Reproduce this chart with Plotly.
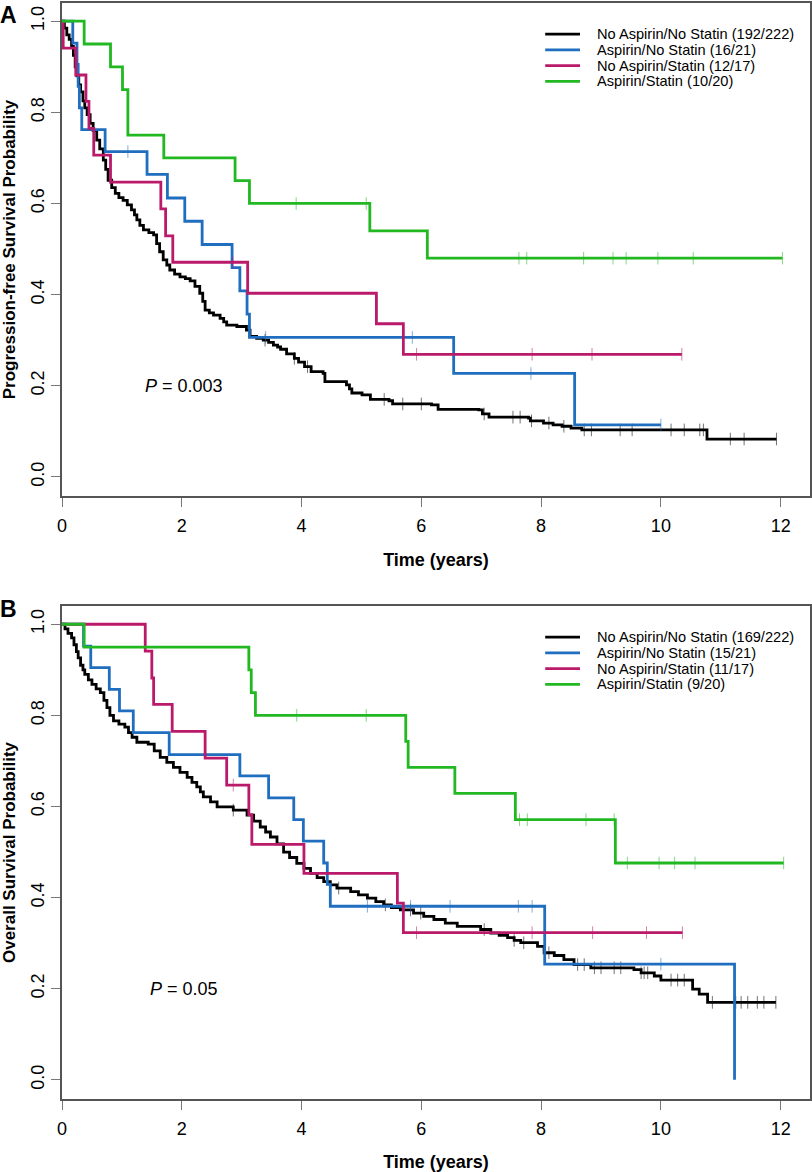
import numpy as np
import plotly.graph_objects as go
from plotly.subplots import make_subplots

font_family = 'Liberation Sans'
line_width = 2.8
box_color = '#555555'

col_none = '#000000'
col_asp = '#1F6EBF'
col_stat = '#BB1A6B'
col_both = '#22B822'

# ---------- Panel A: progression-free survival ----------
pfs_none_t = [0, 0.04, 0.08, 0.12, 0.16, 0.19, 0.22, 0.25, 0.28, 0.31, 0.35, 0.38, 0.42, 0.47, 0.52,
              0.58, 0.63, 0.69, 0.73, 0.77, 0.83, 0.89, 0.95, 1.02, 1.09, 1.16, 1.21, 1.25, 1.30, 1.36,
              1.45, 1.53, 1.58, 1.63, 1.69, 1.75, 1.80, 1.88, 1.97, 2.06, 2.14, 2.22, 2.30, 2.35, 2.39,
              2.46, 2.53, 2.64, 2.70, 2.75, 2.92, 3.08, 3.14, 3.25, 3.36, 3.45, 3.53, 3.60, 3.65, 3.75,
              3.88, 3.95, 4.05, 4.16, 4.36, 4.39, 4.75, 4.80, 4.84, 5.01, 5.15, 5.46, 5.52, 6.17, 6.28,
              6.96, 7.02, 7.13, 7.79, 7.82, 8.04, 8.20, 8.35, 8.50, 8.68, 10.77]
pfs_none_s = [1.0, 0.985, 0.97, 0.96, 0.945, 0.925, 0.90, 0.88, 0.86, 0.845, 0.825, 0.81, 0.795, 0.776, 0.76,
              0.739, 0.72, 0.695, 0.675, 0.651, 0.635, 0.622, 0.613, 0.607, 0.597, 0.586, 0.575, 0.564, 0.552, 0.542,
              0.536, 0.531, 0.512, 0.494, 0.476, 0.465, 0.454, 0.445, 0.439, 0.435, 0.430, 0.418, 0.403, 0.385, 0.366,
              0.360, 0.355, 0.348, 0.340, 0.333, 0.330, 0.322, 0.308, 0.304, 0.300, 0.295, 0.289, 0.285, 0.280, 0.270,
              0.260, 0.252, 0.242, 0.231, 0.227, 0.209, 0.202, 0.193, 0.184, 0.180, 0.170, 0.167, 0.160, 0.158, 0.148,
              0.147, 0.138, 0.131, 0.129, 0.123, 0.118, 0.114, 0.111, 0.107, 0.103, 0.083]
pfs_none_end = 11.93
pfs_none_cens = [3.39, 3.88, 4.10, 5.38, 5.69, 6.00, 7.05, 7.53, 7.65, 7.84, 8.13, 8.38, 8.72, 8.84,
                 9.32, 9.52, 10.17, 10.39, 10.65, 10.71, 11.16, 11.39, 11.93]

pfs_asp_t = [0, 0.18, 0.25, 0.27, 0.29, 0.33, 0.72, 1.42, 1.76, 2.05, 2.34, 2.84, 2.97, 3.09, 3.13, 6.54, 8.56]
pfs_asp_s = [1.0, 0.952, 0.905, 0.857, 0.810, 0.762, 0.714, 0.664, 0.612, 0.561, 0.510, 0.459, 0.408, 0.357,
             0.306, 0.227, 0.114]
pfs_asp_end = 10.0
pfs_asp_cens = [1.10, 3.40, 5.85, 7.83, 10.0]

pfs_stat_t = [0, 0.02, 0.23, 0.40, 0.45, 0.53, 0.81, 1.65, 1.73, 1.85, 3.10, 5.25, 5.70]
pfs_stat_s = [1.0, 0.941, 0.882, 0.824, 0.765, 0.706, 0.647, 0.588, 0.529, 0.471, 0.403, 0.336, 0.269]
pfs_stat_end = 10.35
pfs_stat_cens = [2.85, 5.92, 7.85, 8.85, 10.35]

pfs_both_t = [0, 0.37, 0.81, 1.01, 1.10, 1.70, 2.89, 3.13, 5.14, 6.10]
pfs_both_s = [1.0, 0.95, 0.90, 0.85, 0.75, 0.70, 0.65, 0.60, 0.54, 0.48]
pfs_both_end = 12.03
pfs_both_cens = [3.91, 5.08, 7.63, 7.76, 8.71, 9.20, 9.42, 9.95, 10.54, 12.03]

pfs_labels = ['No Aspirin/No Statin (192/222)', 'Aspirin/No Statin (16/21)',
              'No Aspirin/Statin (12/17)', 'Aspirin/Statin (10/20)']
pfs_pvalue = '0.003'

# ---------- Panel B: overall survival ----------
os_none_t = [0, 0.05, 0.10, 0.16, 0.20, 0.24, 0.27, 0.31, 0.35, 0.38, 0.44, 0.50, 0.57, 0.64, 0.70,
             0.75, 0.80, 0.86, 0.95, 1.05, 1.11, 1.17, 1.25, 1.44, 1.54, 1.64, 1.75, 1.86, 1.97, 2.09,
             2.17, 2.25, 2.31, 2.36, 2.48, 2.59, 2.86, 3.09, 3.20, 3.31, 3.40, 3.48, 3.59, 3.70, 3.80,
             3.92, 4.04, 4.15, 4.26, 4.37, 4.48, 4.59, 4.82, 4.95, 5.10, 5.24, 5.37, 5.50, 5.65, 5.87,
             6.04, 6.21, 6.40, 6.60, 6.99, 7.16, 7.30, 7.44, 7.55, 7.66, 7.94, 8.05, 8.22, 8.38, 8.55,
             8.83, 9.55, 9.67, 9.89, 10.0, 10.53, 10.64, 10.78]
os_none_s = [1.0, 0.99, 0.98, 0.97, 0.955, 0.94, 0.926, 0.91, 0.90, 0.89, 0.878, 0.868, 0.858, 0.85, 0.833,
             0.817, 0.80, 0.788, 0.781, 0.774, 0.762, 0.752, 0.741, 0.737, 0.722, 0.708, 0.697, 0.686, 0.675, 0.664,
             0.653, 0.643, 0.632, 0.621, 0.610, 0.599, 0.592, 0.581, 0.568, 0.555, 0.544, 0.533, 0.518, 0.500, 0.488,
             0.475, 0.464, 0.453, 0.444, 0.435, 0.428, 0.421, 0.413, 0.406, 0.399, 0.391, 0.384, 0.378, 0.373, 0.366,
             0.359, 0.352, 0.344, 0.337, 0.330, 0.322, 0.317, 0.312, 0.306, 0.301, 0.293, 0.279, 0.273, 0.264, 0.253,
             0.246, 0.242, 0.235, 0.228, 0.219, 0.199, 0.188, 0.170]
os_none_end = 11.92
os_none_cens = [2.86, 4.62, 5.40, 5.82, 5.99, 7.05, 7.55, 7.71, 8.13, 8.61, 8.72, 8.89, 9.00, 9.22, 9.33,
                9.67, 9.72, 9.78, 10.17, 10.28, 10.39, 10.86, 11.25, 11.34, 11.45, 11.61, 11.72, 11.92]

os_asp_t = [0, 0.36, 0.48, 0.79, 0.96, 1.19, 1.79, 2.97, 3.45, 3.87, 4.03, 4.37, 4.43, 4.48, 8.06, 11.23]
os_asp_s = [1.0, 0.952, 0.905, 0.857, 0.810, 0.762, 0.714, 0.667, 0.619, 0.571, 0.524, 0.476, 0.429, 0.381,
            0.254, 0.0]
os_asp_end = 11.23
os_asp_cens = [5.10, 5.82, 6.48, 7.62, 7.85, 10.0]

os_stat_t = [0, 1.39, 1.50, 1.53, 1.84, 2.39, 2.75, 3.12, 3.17, 4.04, 5.60, 5.70]
os_stat_s = [1.0, 0.941, 0.882, 0.824, 0.765, 0.706, 0.647, 0.582, 0.517, 0.453, 0.388, 0.323]
os_stat_end = 10.36
os_stat_cens = [2.86, 5.92, 7.85, 8.86, 9.76, 10.36]

os_both_t = [0, 0.37, 3.12, 3.16, 3.23, 5.74, 5.78, 6.56, 7.57, 9.24]
os_both_s = [1.0, 0.95, 0.90, 0.85, 0.80, 0.743, 0.686, 0.629, 0.571, 0.476]
os_both_end = 12.05
os_both_cens = [3.92, 5.08, 7.64, 7.77, 8.75, 9.22, 9.44, 9.97, 10.23, 10.57, 12.05]

os_labels = ['No Aspirin/No Statin (169/222)', 'Aspirin/No Statin (15/21)',
             'No Aspirin/Statin (11/17)', 'Aspirin/Statin (9/20)']
os_pvalue = '0.05'

x_ticks = [0, 2, 4, 6, 8, 10, 12]
y_ticks = [0.0, 0.2, 0.4, 0.6, 0.8, 1.0]


def add_km(fig, row, times, surv, end, cens, color):
	# step curve
	fig.add_trace(go.Scatter(
		x=times + [end], y=surv + [surv[-1]],
		mode='lines', line=dict(color=color, width=line_width, shape='hv'),
		showlegend=False, hoverinfo='skip'),
		row=row, col=1)
	# censor marks placed on the curve
	idx = np.searchsorted(np.array(times), np.array(cens), side='right') - 1
	cy = [surv[i] for i in idx]
	fig.add_trace(go.Scatter(
		x=cens, y=cy, mode='markers',
		marker=dict(symbol='line-ns', size=9, line=dict(color=color, width=1), opacity=0.55),
		showlegend=False, hoverinfo='skip'),
		row=row, col=1)


fig = make_subplots(rows=2, cols=1, vertical_spacing=0.1)

panels = [
	(1, [(pfs_none_t, pfs_none_s, pfs_none_end, pfs_none_cens, col_none),
	     (pfs_asp_t, pfs_asp_s, pfs_asp_end, pfs_asp_cens, col_asp),
	     (pfs_stat_t, pfs_stat_s, pfs_stat_end, pfs_stat_cens, col_stat),
	     (pfs_both_t, pfs_both_s, pfs_both_end, pfs_both_cens, col_both)],
	 pfs_labels, pfs_pvalue, 'Progression-free Survival Probability', 'A'),
	(2, [(os_none_t, os_none_s, os_none_end, os_none_cens, col_none),
	     (os_asp_t, os_asp_s, os_asp_end, os_asp_cens, col_asp),
	     (os_stat_t, os_stat_s, os_stat_end, os_stat_cens, col_stat),
	     (os_both_t, os_both_s, os_both_end, os_both_cens, col_both)],
	 os_labels, os_pvalue, 'Overall Survival Probability', 'B'),
]

colors = [col_none, col_asp, col_stat, col_both]
legend_rows = [0.937, 0.905, 0.873, 0.841]

for row, curves, labels, pval, ytitle, letter in panels:
	for t, s, e, c, col in curves:
		add_km(fig, row, t, s, e, c, col)

	xr = 'x domain' if row == 1 else 'x2 domain'
	yr = 'y domain' if row == 1 else 'y2 domain'
	for i in range(4):
		fig.add_shape(type='line', xref=xr, yref=yr, x0=0.646, x1=0.6925,
					  y0=legend_rows[i], y1=legend_rows[i],
					  line=dict(color=colors[i], width=2.8))
		fig.add_annotation(text=labels[i], xref=xr, yref=yr, x=0.713, y=legend_rows[i],
						   xanchor='left', yanchor='middle', showarrow=False,
						   font=dict(family=font_family, size=14.6, color='black'))

	fig.add_annotation(text='<i>P</i> = ' + pval, xref='x' if row == 1 else 'x2',
					   yref='y' if row == 1 else 'y2', x=1.36 if row == 1 else 1.44, y=0.2,
					   xanchor='left', yanchor='middle', showarrow=False,
					   font=dict(family=font_family, size=18, color='black'))

	fig.add_annotation(text='<b>' + letter + '</b>', xref='paper', yref='paper',
					   x=-0.072, y=0.989 if row == 1 else 0.447,
					   xanchor='center', yanchor='middle', showarrow=False,
					   font=dict(family=font_family, size=23, color='black'))

	fig.update_xaxes(range=[0, 12.49], tickvals=x_ticks, ticks='outside', ticklen=9, tickwidth=1,
					 tickcolor='#777777', showline=True, mirror=True, linecolor=box_color,
					 linewidth=1.5, showgrid=False, zeroline=False, automargin=False,
					 ticklabelstandoff=4,
					 tickfont=dict(family=font_family, size=18, color='black'),
					 title=dict(text='<b>Time (years)</b>', standoff=18,
								font=dict(family=font_family, size=18, color='black')),
					 row=row, col=1)
	fig.update_yaxes(range=[-0.042, 1.04], tickvals=y_ticks, ticktext=['%.1f' % v for v in y_ticks],
					 tickangle=-90, ticks='outside', ticklen=9, tickwidth=1,
					 tickcolor='#777777', showline=True, mirror=True, linecolor=box_color,
					 linewidth=1.5, showgrid=False, zeroline=False, automargin=False,
					 tickfont=dict(family=font_family, size=18, color='black'),
					 title=dict(text='<b>' + ytitle + '</b>', standoff=10,
								font=dict(family=font_family, size=17, color='black')),
					 row=row, col=1)

fig.update_yaxes(domain=[0.5502, 1.0], row=1, col=1)
fig.update_yaxes(domain=[0.0, 0.4498], row=2, col=1)

fig.update_layout(
	width=812,
	height=1172,
	margin=dict(l=62, r=2, t=3, b=73, pad=0),
	plot_bgcolor='white',
	paper_bgcolor='white',
	showlegend=False,
)

# page body has a default 8px margin; drop it so the figure sits at the window corner
fig.write_html('out.html', config={'displayModeBar': False},
			   post_script="document.body.style.margin='0';")
